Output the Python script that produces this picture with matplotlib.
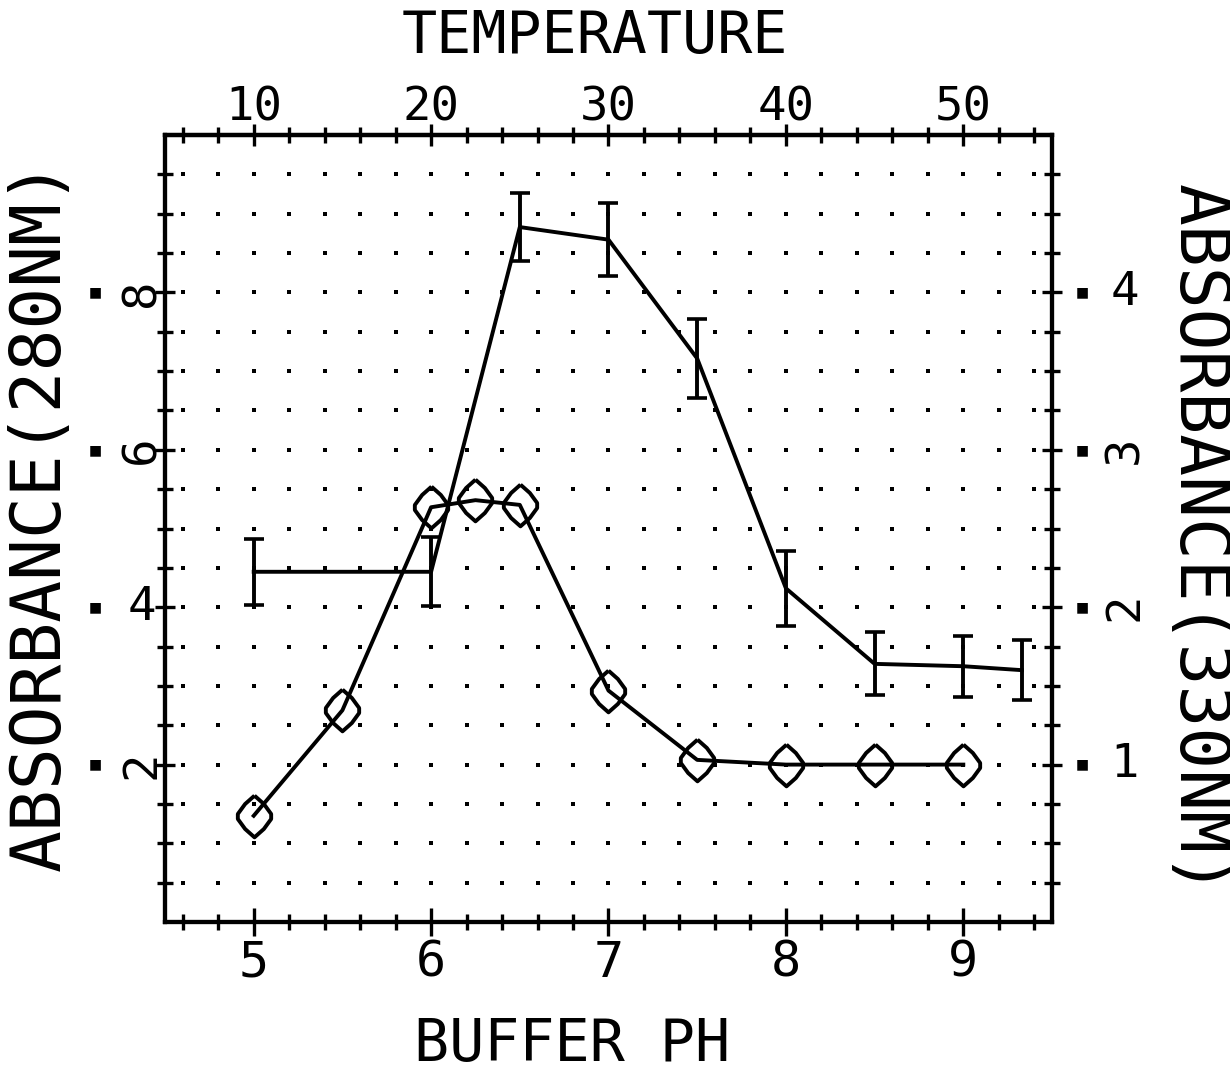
import numpy as np
import matplotlib
matplotlib.use("Agg")
import matplotlib.pyplot as plt

plt.rcParams['font.family'] = ['DejaVu Sans Mono', 'DejaVu Sans']

# ---- data ----
err_ph = [5.0, 6.0, 6.5, 7.0, 7.5, 8.0, 8.5, 9.0, 9.33]
err_abs = [0.445, 0.445, 0.883, 0.867, 0.716, 0.424, 0.328, 0.325, 0.320]
err_sd = [0.042, 0.044, 0.043, 0.046, 0.050, 0.048, 0.040, 0.039, 0.038]

dia_ph = [5.0, 5.5, 6.0, 6.25, 6.5, 7.0, 7.5, 8.0, 8.5, 9.0]
dia_abs = [0.135, 0.269, 0.527, 0.536, 0.530, 0.294, 0.206, 0.200, 0.200, 0.200]

x_ticks = [5, 6, 7, 8, 9]
x_ticklabels = ['5', '6', '7', '8', '9']
top_ticks = [10, 20, 30, 40, 50]
top_ticklabels = ['10', '20', '30', '40', '50']
left_ticks = [0.2, 0.4, 0.6, 0.8]
left_digits = ['2', '4', '6', '8']
left_rot = [90, 0, 90, 90]
right_ticks = [0.1, 0.2, 0.3, 0.4]
right_digits = ['1', '2', '3', '4']
right_rot = [0, 90, 90, 0]

title_top = 'TEMPERATURE'
xlabel = 'BUFFER PH'
ylabel_left = 'ABSORBANCE(280NM)'
ylabel_right = 'ABSORBANCE(330NM)'

# ---- figure ----
W, H = 1230, 1072
fig = plt.figure(figsize=(W / 100, H / 100), dpi=100)
L, R, T, B = 165, 1052, 135, 922
ax = fig.add_axes([L / W, 1 - B / H, (R - L) / W, (B - T) / H])
ax.set_xlim(4.5, 9.5)
ax.set_ylim(0.0, 1.0)

for s in ax.spines.values():
    s.set_linewidth(3)

# dotted grid (dots at minor-tick intersections)
gx = np.round(np.arange(4.6, 9.41, 0.2), 2)
gy = np.round(np.arange(0.05, 0.951, 0.05), 3)
GX, GY = np.meshgrid(gx, gy)
ax.scatter(GX.ravel(), GY.ravel(), marker='s', s=9, color='black', lw=0, zorder=1)

# rounded-diamond marker shape (taller than wide)
dia_marker = [(0, 1), (0.45, 0.6), (0.8, 0.12), (0.8, -0.12), (0.45, -0.6), (0, -1),
              (-0.45, -0.6), (-0.8, -0.12), (-0.8, 0.12), (-0.45, 0.6), (0, 1)]

# data series
ax.errorbar(err_ph, err_abs, yerr=err_sd, color='black', lw=2.8,
            elinewidth=2.8, capsize=7, capthick=2.6, zorder=3)
ax.plot(dia_ph, dia_abs, color='black', lw=2.8, marker=dia_marker, markersize=30,
        mfc='none', mec='black', mew=2.8, zorder=3)

# ticks
tick_kw = dict(direction='inout', width=2.4, color='black')
ax.set_xticks(x_ticks, labels=x_ticklabels)
ax.set_xticks(gx, minor=True)
ax.set_yticks(left_ticks, labels=['' for _ in left_ticks])
ax.set_yticks(gy, minor=True)
ax.tick_params(axis='x', which='major', length=20, labelsize=36, pad=2, **tick_kw)
ax.tick_params(axis='x', which='minor', length=12, **tick_kw)
ax.tick_params(axis='y', which='major', length=14, **tick_kw)
ax.tick_params(axis='y', which='minor', length=12, **tick_kw)

# top axis: temperature
top = ax.secondary_xaxis('top', functions=(lambda p: 10 * (p - 4), lambda t: t / 10 + 4))
top.set_xticks(top_ticks, labels=top_ticklabels)
top.set_xticks(np.arange(6, 55, 2), minor=True)
top.tick_params(axis='x', which='major', length=16, labelsize=34, pad=-5, **tick_kw)
top.tick_params(axis='x', which='minor', length=12, **tick_kw)
top.spines['top'].set_linewidth(3)

# right axis
ax2 = ax.twinx()
ax2.set_ylim(0.0, 0.5)
ax2.set_yticks(right_ticks, labels=['' for _ in right_ticks])
ax2.set_yticks(gy / 2, minor=True)
ax2.tick_params(axis='y', which='major', length=14, **tick_kw)
ax2.tick_params(axis='y', which='minor', length=12, **tick_kw)
for s in ax2.spines.values():
    s.set_linewidth(3)

# custom y tick labels: square dot + digit
lt = ax.get_yaxis_transform()
for v, d, r in zip(left_ticks, left_digits, left_rot):
    ax.text(-0.079, v, '\u25a0', transform=lt, ha='center', va='center',
            fontsize=10, family='DejaVu Sans', clip_on=False)
    ax.text(-0.026, v, d, transform=lt, ha='center', va='center',
            fontsize=34, rotation=r, clip_on=False)
rt = ax2.get_yaxis_transform()
for v, d, r in zip(right_ticks, right_digits, right_rot):
    ax2.text(1.034, v, '\u25a0', transform=rt, ha='center', va='center',
             fontsize=10, family='DejaVu Sans', clip_on=False)
    ax2.text(1.082, v, d, transform=rt, ha='center', va='center',
             fontsize=34, rotation=r, clip_on=False)

# axis titles
fig.text(595 / W, 1 - 37 / H, title_top, ha='center', va='center', fontsize=42)
fig.text(572 / W, 1 - 1045 / H, xlabel, ha='center', va='center', fontsize=42)
fig.text(40 / W, 1 - 515 / H, ylabel_left, ha='center', va='center',
         fontsize=50, rotation=90)
fig.text(1198 / W, 1 - 540 / H, ylabel_right, ha='center', va='center',
         fontsize=50, rotation=-90)

fig.savefig('out.png', dpi=100)
